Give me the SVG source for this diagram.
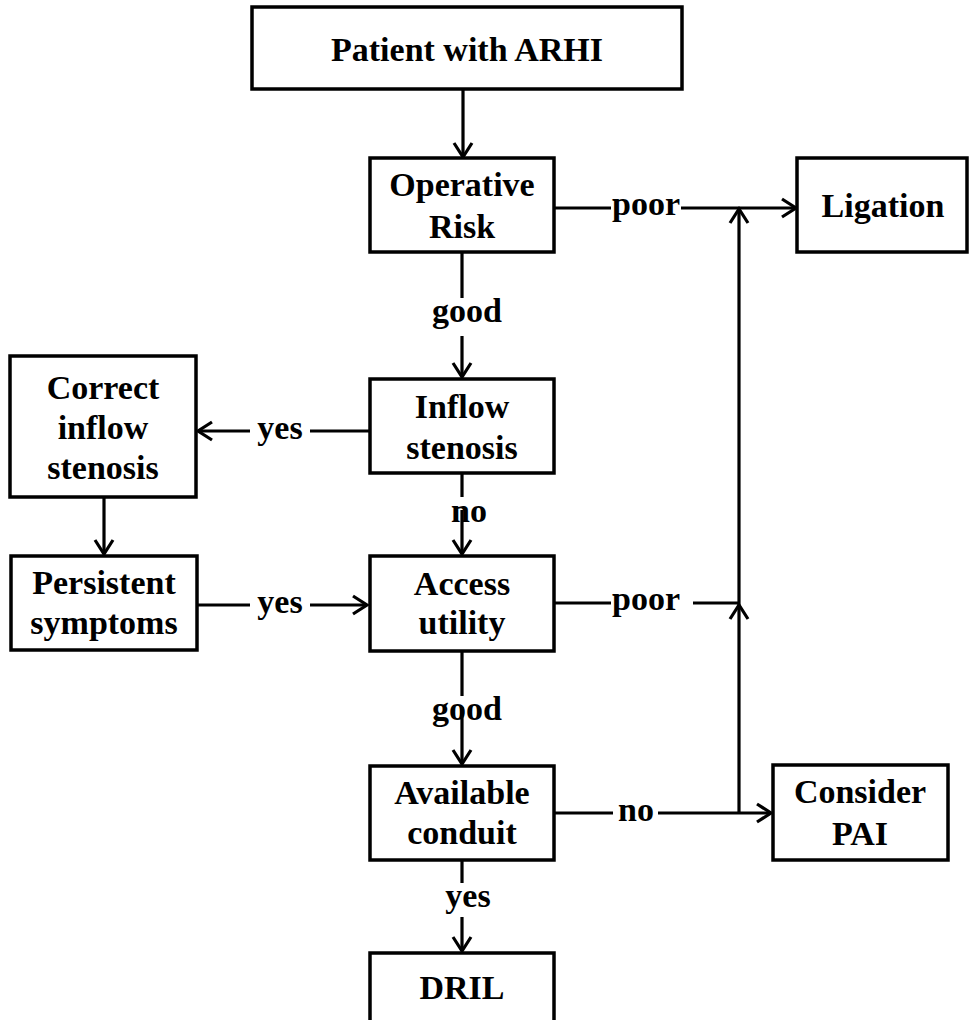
<svg xmlns="http://www.w3.org/2000/svg" width="969" height="1020" viewBox="0 0 969 1020">
<style>
  .box{fill:#fff;stroke:#000;stroke-width:3.5}
  .t{font-family:"Liberation Serif","Times New Roman",serif;font-weight:bold;font-size:34px;fill:#000;text-anchor:middle}
  .c{fill:none;stroke:#000;stroke-width:3.2}
</style>
<defs>
  <marker id="arr" markerUnits="userSpaceOnUse" markerWidth="20" markerHeight="22" viewBox="0 0 20 22" refX="16" refY="11" orient="auto">
    <path d="M2,2 L16,11 L2,20" fill="none" stroke="#000" stroke-width="3.2"/>
  </marker>
</defs>
<rect width="969" height="1020" fill="#fff"/>
<g id="connectors">
  <path class="c" d="M463,89 V157" marker-end="url(#arr)"/>
  <path class="c" d="M555,208 H611"/>
  <path class="c" d="M681,208 H796" marker-end="url(#arr)"/>
  <text class="t" x="646" y="215">poor</text>
  <path class="c" d="M462,252 V298"/>
  <path class="c" d="M462,336 V377" marker-end="url(#arr)"/>
  <text class="t" x="467" y="322">good</text>
  <path class="c" d="M369,431 H310"/>
  <path class="c" d="M250,431 H198" marker-end="url(#arr)"/>
  <text class="t" x="280" y="439">yes</text>
  <path class="c" d="M462,473 V497"/>
  <path class="c" d="M462,510 V554" marker-end="url(#arr)"/>
  <text class="t" x="469" y="522">no</text>
  <path class="c" d="M104,497 V554" marker-end="url(#arr)"/>
  <path class="c" d="M196,605 H250"/>
  <path class="c" d="M310,605 H367" marker-end="url(#arr)"/>
  <text class="t" x="280" y="613">yes</text>
  <path class="c" d="M554,603 H611"/>
  <path class="c" d="M693,603 H739"/>
  <text class="t" x="646" y="610">poor</text>
  <path class="c" d="M739,813 V605" marker-end="url(#arr)"/>
  <path class="c" d="M739,605 V209" marker-end="url(#arr)"/>
  <path class="c" d="M462,651 V696"/>
  <path class="c" d="M462,707 V764" marker-end="url(#arr)"/>
  <text class="t" x="467" y="720">good</text>
  <path class="c" d="M554,813 H613"/>
  <path class="c" d="M658,813 H771" marker-end="url(#arr)"/>
  <text class="t" x="636" y="821">no</text>
  <path class="c" d="M462,860 V883"/>
  <path class="c" d="M462,917 V951" marker-end="url(#arr)"/>
  <text class="t" x="468" y="907">yes</text>
</g>
<g id="n-patient"><rect class="box" x="252" y="7" width="430" height="82"/><text class="t" x="467" y="61">Patient with ARHI</text></g>
<g id="n-operative"><rect class="box" x="370" y="158" width="184" height="94"/><text class="t" x="462" y="196">Operative</text><text class="t" x="462" y="238">Risk</text></g>
<g id="n-ligation"><rect class="box" x="797" y="158" width="170" height="94"/><text class="t" x="883" y="217">Ligation</text></g>
<g id="n-correct"><rect class="box" x="10" y="356" width="186" height="141"/><text class="t" x="103" y="399">Correct</text><text class="t" x="103" y="439">inflow</text><text class="t" x="103" y="479">stenosis</text></g>
<g id="n-inflow"><rect class="box" x="370" y="379" width="184" height="94"/><text class="t" x="462" y="418">Inflow</text><text class="t" x="462" y="459">stenosis</text></g>
<g id="n-persistent"><rect class="box" x="11" y="556" width="186" height="94"/><text class="t" x="104" y="594">Persistent</text><text class="t" x="104" y="634">symptoms</text></g>
<g id="n-access"><rect class="box" x="370" y="556" width="184" height="95"/><text class="t" x="462" y="595">Access</text><text class="t" x="462" y="634">utility</text></g>
<g id="n-available"><rect class="box" x="370" y="766" width="184" height="94"/><text class="t" x="462" y="804">Available</text><text class="t" x="462" y="844">conduit</text></g>
<g id="n-consider"><rect class="box" x="773" y="765" width="175" height="95"/><text class="t" x="860" y="803">Consider</text><text class="t" x="860" y="845">PAI</text></g>
<g id="n-dril"><rect class="box" x="370" y="953" width="184" height="80"/><text class="t" x="462" y="999">DRIL</text></g>
</svg>
